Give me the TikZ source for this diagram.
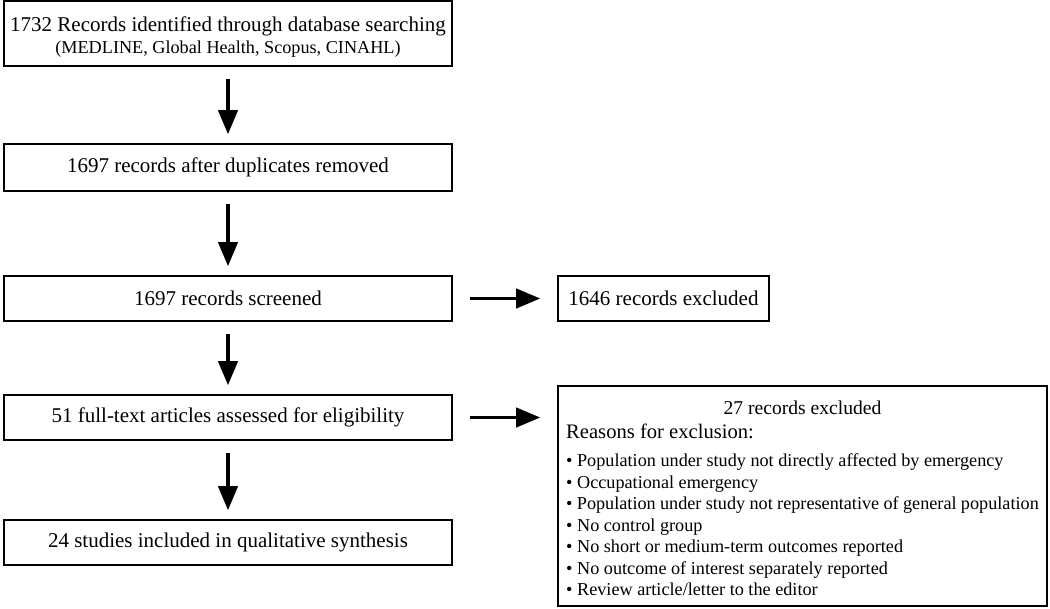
\documentclass[tikz,border=0pt]{standalone}
\usepackage{fontspec}
\setmainfont{Liberation Serif}
\usepackage{tikz}
\usetikzlibrary{positioning}
\usetikzlibrary{arrows}

\begin{document}
\begin{tikzpicture}[
    x = .5pt,
    y = -.5pt,
    font = \fontsize{10.5}{12}\selectfont,
    stagef/.style = {
      rectangle,
      draw=black,
      line width=1.2pt,
      minimum width=223.8pt,
      minimum height=22.3pt,
      inner sep=2pt,
      align=center
    },
    exclf/.style = {
      rectangle,
      draw=black,
      line width=1.2pt,
      minimum width=105.3pt,
      minimum height=22.3pt,
      inner sep=2pt
    },
    reasonf/.style = {
      rectangle,
      draw=black,
      line width=1.2pt,
      inner xsep=4pt,
      inner ysep=6pt
    },
    flow/.style = {
      -triangle 45,
      line width=1.8pt,
      shorten <=6pt,
      shorten >=4.5pt
    },
    sideflow/.style = {
      -triangle 45,
      line width=1.8pt,
      shorten <=8.5pt,
      shorten >=8.5pt
    }
  ]
    \fill[white] (0,0) rectangle (1050,609);
    \useasboundingbox (0,0) rectangle (1050,609);

    \node[stagef, minimum height=32.3pt] (ident) at (228,33.5)
      {\rule{0pt}{11pt}1732 Records identified through database searching\\[-1pt]
       {\fontsize{9.1}{10}\selectfont\spaceskip=0pt (MEDLINE, Global Health, Scopus, CINAHL)}};
    \node[stagef, minimum height=23.3pt] (dupl) [below=38pt of ident] {1697 records after duplicates removed};
    \node[stagef] (screen) [below=41.5pt of dupl] {1697 records screened};
    \node[stagef] (full) [below=36pt of screen] {51 full-text articles assessed for eligibility};
    \node[stagef] (incl) [below=39pt of full] {24 studies included in qualitative synthesis};

    \node[exclf] (screx) [right=52pt of screen] {1646 records excluded};
    \node[reasonf] (fullex) [right=52pt of full.north east, anchor=north west, yshift=4.5pt]
      {\parbox[c][97.8pt][t]{236.3pt}{%
       \vspace*{1.5pt}
       {\centering\fontsize{9.8}{12}\selectfont 27 records excluded\par}
       {\fontsize{10.3}{12}\selectfont Reasons for exclusion:\par}
       \vspace{3.25pt}{\fontsize{9.1}{10.75}\selectfont
       \textbullet\ Population under study not directly affected by emergency\\
       \textbullet\ Occupational emergency\\
       \textbullet\ Population under study not representative of general population\\
       \textbullet\ No control group\\
       \textbullet\ No short or medium-term outcomes reported\\
       \textbullet\ No outcome of interest separately reported\\
       \textbullet\ Review article/letter to the editor\par}}};

    \draw[flow] (ident) -- (dupl);
    \draw[flow] (dupl) -- (screen);
    \draw[flow] (screen) -- (full);
    \draw[flow] (full) -- (incl);
    \draw[sideflow] (screen) -- (screx);
    \draw[sideflow] (full) -- (full.east -| fullex.west);
  \end{tikzpicture}
\end{document}
